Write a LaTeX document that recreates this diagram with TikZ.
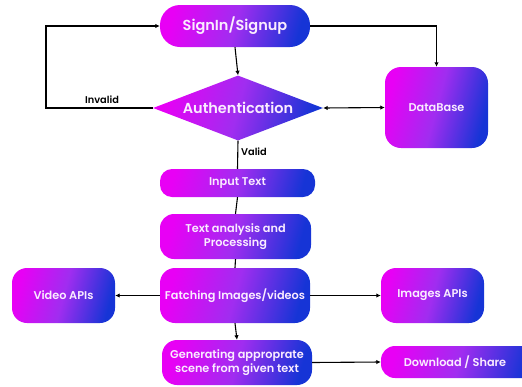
\documentclass[tikz,border=0pt]{standalone}
\usepackage{fontspec}
\setmainfont{Poppins}[BoldFont={Poppins SemiBold}]
\usetikzlibrary{shapes.geometric,arrows.meta}
\definecolor{gMag}{RGB}{232,0,245}
\definecolor{gMid}{RGB}{160,45,240}
\definecolor{gBlue}{RGB}{22,52,214}
\definecolor{txtW}{RGB}{250,236,255}
\tikzset{
  grad/.style={left color=gMag, right color=gBlue, middle color=gMid, shading angle=75,
    text=txtW, font=\bfseries\fontsize{11.3}{14.5}\selectfont, align=center, inner sep=0pt},
  rbox/.style={grad, rectangle, rounded corners=#1},
  rbox/.default=14pt,
  conn/.style={draw=black, line width=1.1pt},
  arr/.style={conn, -{Latex[length=4.5pt,width=4.5pt]}},
  darr/.style={conn, {Latex[length=4.5pt,width=4.5pt]}-{Latex[length=4.5pt,width=4.5pt]}},
  lbl/.style={font=\bfseries\fontsize{9.8}{11}\selectfont, text=black, inner sep=0pt}
}
\begin{document}
\begin{tikzpicture}[x=1pt,y=-1pt]
  \useasboundingbox (0,0) rectangle (522,386);
  \clip (0,0) rectangle (522,386);

  % boxes
  \node[rbox=20pt, minimum width=150pt, minimum height=42pt,
        font=\bfseries\fontsize{14.5}{17}\selectfont] (sign) at (235,26) {SignIn/Signup};
  \node[grad, diamond, minimum width=170pt, minimum height=65pt, shape aspect=2.6,
        font=\bfseries\fontsize{14.5}{17}\selectfont] (auth) at (238,108) {Authentication};
  \node[rbox=16pt, minimum width=103pt, minimum height=81pt] (db) at (436.5,107.5) {DataBase};
  \node[rbox=12pt, minimum width=155pt, minimum height=28pt] (input) at (237.5,183) {Input Text};
  \node[rbox=14pt, minimum width=151pt, minimum height=45pt] (analysis) at (235.5,236.5)
        {Text analysis and\\Processing};
  \node[rbox=15pt, minimum width=150pt, minimum height=55pt] (fetch) at (235,295.5)
        {Fatching Images/videos};
  \node[rbox=15pt, minimum width=103pt, minimum height=55pt] (video) at (63.5,295.5) {Video APIs};
  \node[rbox=15pt, minimum width=103pt, minimum height=55pt] (images) at (432.5,295.5) {Images APIs};
  \node[rbox=15pt, minimum width=150pt, minimum height=45pt] (gen) at (237,362.5)
        {Generating approprate\\scene from given text};
  \node[rbox=14pt, minimum width=156pt, minimum height=32pt] (dl) at (459,362)
        {\hspace*{-8pt}Download / Share};

  % connectors
  \coordinate (loop) at (46,108);
  \draw[arr] (sign.east) -| (db.north);
  \draw[arr] (sign.south) -- (auth.north);
  \draw[arr] (auth.west) -- (loop) |- (sign.west);
  \draw[darr] (auth.east) -- (db.west);
  \draw[conn] (auth.south) -- (input.north);
  \draw[conn] (input.south) -- (analysis.north);
  \draw[conn] (analysis.south) -- (fetch.north);
  \draw[arr] (fetch.west) -- (video.east);
  \draw[arr] (fetch.east) -- (images.west);
  \draw[arr] (fetch.south) -- (gen.north);
  \draw[arr] (gen.east) -- (dl.west);

  % labels
  \node[lbl] (inv) at (102,100) {Invalid};
  \node[lbl] (val) at (254,152) {Valid};
\end{tikzpicture}
\end{document}
